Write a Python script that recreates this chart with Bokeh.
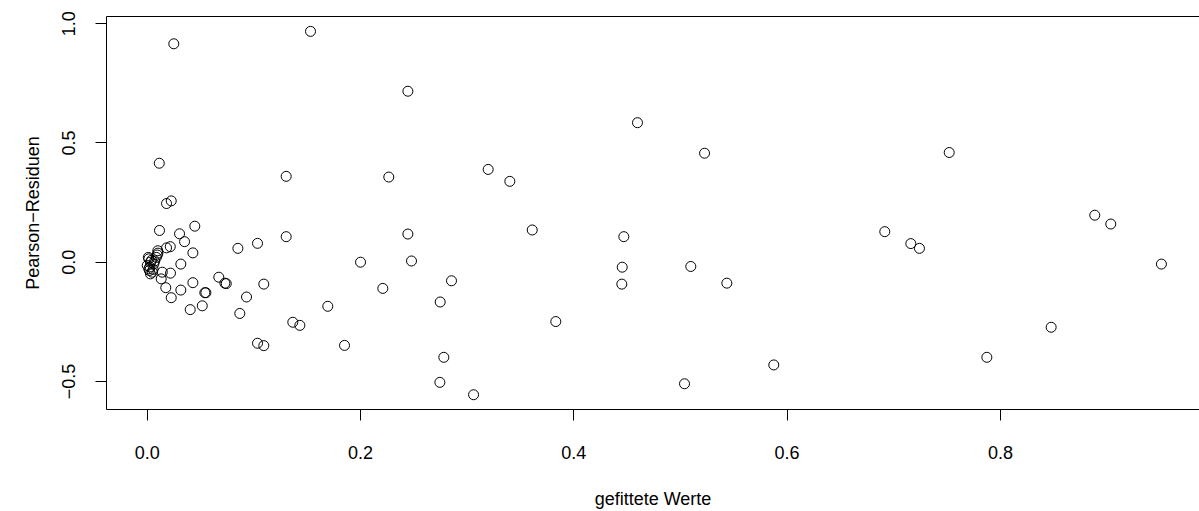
from bokeh.plotting import figure
from bokeh.models import Range1d, FixedTicker, LinearAxis, CustomJSTickFormatter
from bokeh.embed import file_html
from bokeh.resources import INLINE

# fitted values (x) and Pearson residuals (y)
fitted = [
    0.0249, 0.1531, 0.2444, 0.4597, 0.5226, 0.3400,
    0.1303, 0.2265, 0.3197, 0.1034, 0.1303, 0.2444, 0.2000, 0.2478, 0.2853, 0.1093,
    0.2209, 0.2747, 0.1693, 0.1365, 0.1431, 0.1850, 0.1034, 0.1093, 0.2781, 0.2744,
    0.3060, 0.0931, 0.0850,
    0.3610, 0.4469, 0.4454, 0.5097, 0.4450, 0.5435, 0.3831, 0.5875, 0.5038,
    0.6916, 0.7160, 0.7241, 0.8885, 0.9035, 0.9510, 0.8476, 0.7873, 0.7520,
    0.0113, 0.0181, 0.0225, 0.0115, 0.0303, 0.0350, 0.0446, 0.0216, 0.0181, 0.0099,
    0.0094, 0.0428, 0.0315, 0.0141, 0.0131, 0.0218, 0.0671, 0.0728, 0.0741, 0.0428,
    0.0174, 0.0315, 0.0225, 0.0540, 0.0550, 0.0516, 0.0403, 0.0868,
    0.0015, 0.0030, 0.0000, 0.0015, 0.0047, 0.0030, 0.0062, 0.0010, 0.0020, 0.0040,
    0.0070, 0.0085, 0.0100, 0.0025, 0.0055,
]
residuals = [
    0.916, 0.968, 0.717, 0.585, 0.457, 0.339,
    0.360, 0.357, 0.389, 0.079, 0.107, 0.118, 0.000, 0.005, -0.078, -0.092,
    -0.110, -0.167, -0.185, -0.252, -0.265, -0.349, -0.340, -0.350, -0.399, -0.504,
    -0.556, -0.146, 0.058,
    0.135, 0.107, -0.021, -0.018, -0.092, -0.088, -0.249, -0.431, -0.510,
    0.128, 0.078, 0.058, 0.197, 0.160, -0.008, -0.273, -0.399, 0.460,
    0.415, 0.246, 0.257, 0.133, 0.119, 0.086, 0.151, 0.065, 0.060, 0.048,
    0.030, 0.039, -0.008, -0.042, -0.070, -0.046, -0.063, -0.088, -0.090, -0.086,
    -0.107, -0.117, -0.149, -0.128, -0.128, -0.183, -0.199, -0.215,
    0.014, 0.000, -0.014, -0.028, -0.042, -0.049, -0.007, 0.020, -0.035, 0.008,
    0.005, 0.020, 0.038, -0.020, -0.030,
]

x_ticks = [0.0, 0.2, 0.4, 0.6, 0.8]
x_tick_labels = ["0.0", "0.2", "0.4", "0.6", "0.8"]
y_ticks = [-0.5, 0.0, 0.5, 1.0]
y_tick_labels = ["\u22120.5", "0.0", "0.5", "1.0"]

x_title = "gefittete Werte"
y_title = "Pearson\u2212Residuen"

FONT = "Liberation Sans"

p = figure(
    width=1199, height=511,
    output_backend="svg", toolbar_location=None,
    x_range=Range1d(-0.0382, 0.9867), y_range=Range1d(-0.6179, 1.0304),
    min_border_left=106, min_border_right=0, min_border_top=16, min_border_bottom=100,
    x_axis_label=x_title, y_axis_label=y_title,
)
p.outline_line_color = None
p.grid.visible = False
p.background_fill_color = "white"
p.border_fill_color = "white"

fmt_code = """
let best = 0;
for (let i = 0; i < tvals.length; i++) {
  if (Math.abs(tvals[i] - tick) < Math.abs(tvals[best] - tick)) best = i;
}
return tlabels[best];
"""

p.xaxis.ticker = FixedTicker(ticks=x_ticks)
p.xaxis.formatter = CustomJSTickFormatter(args=dict(tvals=x_ticks, tlabels=x_tick_labels), code=fmt_code)
p.yaxis.ticker = FixedTicker(ticks=y_ticks)
p.yaxis.formatter = CustomJSTickFormatter(args=dict(tvals=y_ticks, tlabels=y_tick_labels), code=fmt_code)
p.yaxis.major_label_orientation = "vertical"

for ax in (p.xaxis[0], p.yaxis[0]):
    ax.axis_line_color = "black"
    ax.axis_line_width = 1
    ax.major_tick_line_color = "black"
    ax.major_tick_line_width = 1
    ax.major_tick_out = 11
    ax.major_tick_in = 0
    ax.minor_tick_out = 0
    ax.minor_tick_in = 0
    ax.minor_tick_line_color = None
    ax.major_label_text_font = FONT
    ax.major_label_text_font_size = "18px"
    ax.major_label_text_color = "black"
    ax.axis_label_text_font = FONT
    ax.axis_label_text_font_size = "18px"
    ax.axis_label_text_font_style = "normal"
    ax.axis_label_text_color = "black"

p.xaxis.major_label_standoff = 25
p.xaxis.axis_label_standoff = 27
p.yaxis.major_label_standoff = 20
p.yaxis.axis_label_standoff = 17

# top border of the box (right side lies outside the picture)
top = LinearAxis(ticker=FixedTicker(ticks=[]), major_tick_out=0, major_tick_in=0,
                 minor_tick_out=0, minor_tick_in=0, major_label_standoff=0,
                 major_label_text_font_size="0px", axis_line_color="black",
                 axis_line_width=1)
p.add_layout(top, "above")

p.scatter(fitted, residuals, marker="circle", size=10, fill_color=None,
          line_color="black", line_width=1)

open("out.html", "w").write(file_html(p, INLINE))
